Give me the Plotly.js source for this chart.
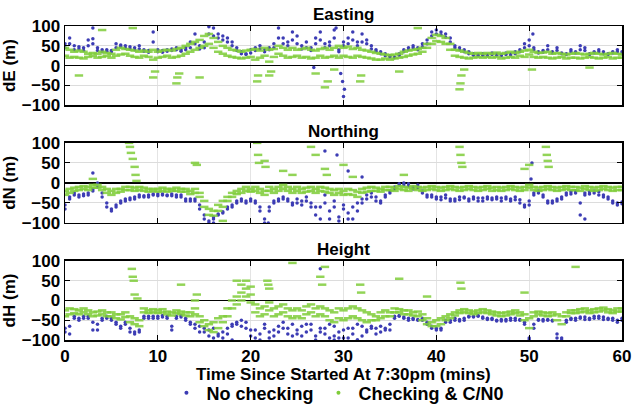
<!DOCTYPE html>
<html><head><meta charset="utf-8">
<script src="https://cdn.plot.ly/plotly-3.0.1.min.js"></script>
<style>html,body{margin:0;padding:0;background:#fff}#c{width:632px;height:406px}</style>
</head><body><div id="c"></div>
<script>
const t = [0,0.5,1,1.5,2,2.5,3,3.5,4,4.5,5,5.5,6,6.5,7,7.5,8,8.5,9,9.5,10,10.5,11,11.5,12,12.5,13,13.5,14,14.5,15,15.5,16,16.5,17,17.5,18,18.5,19,19.5,20,20.5,21,21.5,22,22.5,23,23.5,24,24.5,25,25.5,26,26.5,27,27.5,28,28.5,29,29.5,30,30.5,31,31.5,32,32.5,33,33.5,34,34.5,35,35.5,36,36.5,37,37.5,38,38.5,39,39.5,40,40.5,41,41.5,42,42.5,43,43.5,44,44.5,45,45.5,46,46.5,47,47.5,48,48.5,49,49.5,50,50.5,51,51.5,52,52.5,53,53.5,54,54.5,55,55.5,56,56.5,57,57.5,58,58.5,59,59.5,60];

// Easting
const eBlue1 = [55,70,50,48,45,65,68,45,40,40, 38,55,52,50,48,45,50,40,38,85, 40,38,40,42,45,40,45,60,80,50, 60,98,95,80,75,70,60,45,35,30, 40,45,50,40,45,55,95,70,60,85, 75,50,60,45,70,85,55,60,90,40, 60,70,85,60,80,65,50,40,35,30, 25,22,30,40,45,50,45,55,65,85, 90,85,80,70,50,45,40,35,30,28, 30,28,32,30,28,32,30,35,40,55, 65,45,35,38,50,35,45,32,30,40, 35,50,45,30,35,40,35,30,35,40, 35];
const eBlue2 = [45,55,40,42,38,50,55,38,35,36, 35,45,48,44,42,40,42,36,34,60, 35,34,36,38,40,36,40,45,55,42, 45,80,75,70,65,60,50,38,30,28, 32,38,42,35,40,45,70,55,50,65, 55,42,45,38,55,65,45,50,70,35, 50,55,65,50,60,55,42,36,30,25, 22,20,26,35,40,45,40,48,55,75, 80,78,72,60,45,40,35,30,26,25, 26,25,28,26,25,28,27,30,35,45, 50,40,32,34,40,32,38,30,28,35, 32,40,38,28,32,35,30,28,32,35, 30];
const eGreen1 = [45,40,35,38,35,30,32,30,35,32, 30,40,45,42,40,38,35,38,35,40, 35,38,40,38,42,45,50,55,60,65, 75,80,70,60,50,45,40,38,35,38, 40,42,38,45,40,42,50,45,40,45, 40,42,45,40,38,42,45,40,45,50, 45,48,42,45,40,38,35,32,30,28, 26,28,30,35,38,40,42,45,55,70, 78,75,70,55,40,38,35,32,30,32, 30,32,30,33,30,32,35,32,35,38, 40,35,32,33,35,30,32,30,28,30, 32,30,28,30,32,30,28,30,32,30, 28];
const eGreen2 = [25,20,22,20,18,22,25,20,22,25, 20,25,28,30,25,22,20,25,22,15, 20,22,25,20,22,25,30,35,40,45, 50,55,45,35,30,25,22,20,18,20, 22,15,20,25,10,22,30,25,20,22, 25,20,22,18,20,25,20,22,25,20, 25,22,20,25,22,20,18,15,15,18, 15,18,20,22,25,28,30,35,45,55, 62,60,55,40,25,22,20,18,20,22, 20,22,20,22,18,20,22,20,25,22, 28,22,20,22,20,18,20,22,18,20, 20,18,20,22,20,18,20,22,18,20, 20];
const eBlueOutT = [30,30.1,29.9,29.7,29.2,26.8,3,50.4];
const eBlueOutV = [-78,-60,-40,-20,95,-5,95,80];
const eGreenOutT = [1.5,9.5,9.7,12,12.1,12.3,14.5,20.7,20.8,22,22.2,27,28,28.3,29,31.8,31.9,36,42.5,42.6,42.7,43,50.3,56.5,4,38,7.3];
const eGreenOutV = [-25,-30,-15,-45,-30,-20,-30,-40,-25,-25,-15,-20,-55,-40,-10,-40,-25,-15,-60,-45,-25,-10,-10,-5,90,95,95];

// Northing
const nBlue1 = [-55,-40,-30,-30,-28,-30,-20,-10,-25,-50, -65,-55,-45,-40,-38,-40,-35,-32,-30,-30, -28,-30,-32,-28,-30,-35,-40,-40,-45,-55, -80,-95,-90,-78,-72,-65,-55,-45,-45,-50, -40,-45,-60,-90,-60,-45,-40,-35,-45,-50, -40,-45,-35,-50,-60,-90,-30,-70,-45,-85, -55,-75,-90,-50,-40,-30,-25,-35,-45,-30, -20,-10,-2,-5,-8,-10,-5,-20,-30,-35, -40,-35,-38,-45,-40,-35,-38,-40,-35,-45, -38,-40,-42,-35,-38,-40,-45,-35,-42,-55, -45,-25,-20,-30,-45,-50,-40,-35,-25,-22, -20,-50,-25,-22,-20,-22,-30,-35,-45,-50, -48];
const nBlue2 = [-65,-35,-25,-35,-32,-25,-15,0,-35,-60, -70,-60,-50,-45,-42,-35,-30,-35,-35,-28, -32,-28,-30,-32,-35,-30,-45,-45,-40,-65, -90,-100,-85,-80,-75,-60,-60,-50,-40,-45, -45,-50,-70,-100,-70,-50,-45,-40,-40,-55, -50,-55,-45,-60,-80,-60,-50,-90,-60,-95, -65,-90,-60,-70,-50,-40,-35,-45,-50,-35, -25,-15,-5,0,-2,-15,-12,-25,-35,-30, -35,-42,-30,-40,-45,-42,-35,-45,-40,-38, -45,-35,-38,-40,-45,-35,-40,-42,-50,-60, -55,-30,-25,-35,-50,-45,-45,-40,-30,-28, -25,-80,-30,-28,-25,-30,-35,-40,-50,-55, -52];
const nGreen1 = [-20,-15,-12,-10,-8,-10,-5,-5,-10,-15, -20,-15,-15,-10,-10,-12,-10,-12,-15,-15, -15,-12,-15,-15,-12,-15,-15,-20,-15,-25, -45,-65,-70,-55,-45,-35,-25,-20,-15,-10, -15,-10,-15,-20,-10,-15,-10,-5,-10,-15, -10,-15,-12,-10,-15,-10,-12,-15,-18,-15, -20,-15,-18,-22,-15,-12,-10,-12,-15,-10, -10,-12,-8,-10,-12,-8,-10,-12,-10,-8, -10,-12,-10,-8,-10,-12,-10,-8,-10,-12, -10,-8,-12,-10,-12,-10,-8,-10,-12,-10, -5,-10,-12,-10,-8,-10,-12,-10,-8,-10, -10,-12,-8,-10,-12,-10,-8,-10,-12,-10, -10];
const nGreen2 = [-30,-25,-20,-18,-15,-18,-12,-12,-18,-25, -30,-25,-22,-18,-18,-20,-18,-20,-22,-20, -22,-20,-22,-20,-20,-22,-22,-28,-25,-35, -60,-80,-82,-70,-60,-45,-35,-28,-25,-20, -22,-20,-25,-30,-20,-25,-20,-15,-20,-25, -20,-25,-22,-20,-25,-20,-22,-25,-30,-25, -30,-28,-30,-35,-25,-22,-20,-20,-22,-18, -18,-20,-15,-18,-20,-15,-18,-20,-18,-15, -18,-20,-18,-15,-18,-20,-18,-15,-18,-20, -18,-15,-20,-18,-20,-18,-15,-18,-20,-18, -12,-18,-20,-18,-15,-18,-20,-18,-15,-18, -18,-20,-15,-18,-20,-18,-15,-18,-20,-18, -18];
const nBlueOutT = [3,29.3,28,30.5,32,50.2,50.3,56,21.9,16];
const nBlueOutV = [25,70,80,30,15,10,50,-90,-100,-100];
const nGreenOutT = [6.9,7,7.1,7.3,7.5,7.6,7.7,3,14,14.2,17,20.7,20.8,20.9,21.5,21.6,23.5,24.5,26.5,27,28,28.2,30,31,36.5,42.5,42.6,42.7,42.8,51.8,51.9,52,52.1,50,49.5];
const nGreenOutV = [100,90,75,60,40,20,5,10,50,45,-95,100,70,50,55,40,30,20,90,70,35,20,45,15,20,90,70,50,40,90,70,55,40,45,35];

// Height
const hBlue1 = [-70,-85,-45,-45,-40,-45,-55,-75,-45,-40, -45,-60,-65,-55,-70,-80,-80,-40,-40,-45, -40,-38,-45,-75,-40,-42,-50,-55,-60,-65, -80,-90,-70,-85,-95,-85,-60,-55,-65,-55, -90,-75,-100,-60,-80,-90,-65,-70,-85,-60, -75,-65,-80,-60,-90,-70,-85,-95,-65,-80, -75,-95,-70,-60,-90,-75,-65,-70,-80,-75, -60,-40,-40,-42,-45,-48,-50,-45,-55,-65, -75,-70,-55,-50,-50,-52,-45,-42,-40,-40, -42,-45,-48,-50,-52,-48,-50,-45,-50,-55, -95,-60,-50,-48,-50,-52,-85,-95,-50,-45, -45,-42,-48,-45,-40,-45,-42,-48,-45,-50, -45];
const hBlue2 = [-80,-65,-40,-50,-45,-40,-75,-60,-50,-45, -50,-55,-70,-60,-80,-85,-75,-45,-45,-40, -45,-42,-40,-65,-45,-38,-45,-60,-70,-80, -70,-75,-95,-90,-80,-70,-65,-60,-50,-70, -75,-95,-85,-70,-95,-75,-80,-55,-70,-90, -85,-90,-60,-75,-100,-80,-70,-60,-90,-95, -95,-70,-85,-100,-65,-80,-70,-85,-65,-70, -75,-45,-38,-45,-50,-45,-48,-50,-60,-70, -70,-75,-50,-55,-45,-48,-50,-40,-42,-38, -45,-48,-45,-52,-48,-52,-45,-50,-48,-60, -100,-70,-48,-52,-48,-50,-95,-100,-55,-48, -50,-45,-42,-48,-45,-40,-48,-45,-50,-55, -50];
const hGreen1 = [-25,-20,-22,-25,-20,-25,-30,-28,-25,-30, -30,-35,-35,-30,-40,-45,-50,-20,-25,-22, -25,-22,-28,-30,-25,-28,-30,-30,-20,-40, -50,-60,-55,-45,-40,-20,0,10,20,30, 15,-10,-20,-15,-5,-20,-15,-10,-20,-25, -20,-25,-15,-10,-20,-15,-20,-25,-30,-20, -25,-20,-15,-20,-25,-30,-35,-40,-30,-25, -30,-20,-22,-25,-25,-30,-28,-35,-45,-55, -50,-45,-40,-35,-30,-25,-22,-25,-28,-25, -22,-25,-28,-30,-32,-30,-28,-25,-30,-35, -45,-30,-28,-30,-32,-30,-35,-40,-30,-25, -25,-22,-20,-25,-22,-20,-18,-22,-25,-20, -20];
const hGreen2 = [-40,-35,-32,-35,-30,-35,-40,-38,-35,-40, -40,-45,-48,-42,-55,-60,-65,-30,-32,-30, -32,-30,-35,-38,-32,-35,-38,-40,-35,-55, -65,-75,-80,-70,-55,-40,-20,-10,0,10, -5,-30,-40,-35,-25,-40,-35,-30,-40,-45, -40,-45,-35,-30,-40,-35,-40,-50,-55,-45, -50,-45,-40,-45,-50,-55,-50,-50,-45,-40, -40,-30,-30,-35,-35,-38,-40,-50,-60,-65, -65,-60,-50,-45,-38,-32,-30,-32,-35,-32, -30,-32,-35,-38,-40,-38,-35,-32,-38,-50, -70,-40,-35,-38,-40,-38,-50,-60,-40,-32, -32,-30,-28,-32,-30,-28,-25,-30,-32,-28, -28];
const hBlueOutT = [27.5,18,29,31.5];
const hBlueOutV = [80,-100,-100,-100];
const hGreenOutT = [7.2,7.3,7.4,7.5,7.8,14,14.2,18.5,19,19.5,20,21.8,21.9,22,24.5,27.5,27.7,31.8,31.9,39,42.6,42.7,49.5,36,12.5,55,28];
const hGreenOutV = [80,60,50,15,5,0,15,50,40,50,35,50,40,30,95,60,40,40,20,10,45,30,20,55,40,85,85];

const seriesNames = ['No checking','Checking & C/N0'];
const xTitle = 'Time Since Started At 7:30pm (mins)';
const panels = [
  {b1:eBlue1,b2:eBlue2,bt:eBlueOutT,bv:eBlueOutV,g1:eGreen1,g2:eGreen2,gt:eGreenOutT,gv:eGreenOutV,ax:''},
  {b1:nBlue1,b2:nBlue2,bt:nBlueOutT,bv:nBlueOutV,g1:nGreen1,g2:nGreen2,gt:nGreenOutT,gv:nGreenOutV,ax:'2'},
  {b1:hBlue1,b2:hBlue2,bt:hBlueOutT,bv:hBlueOutV,g1:hGreen1,g2:hGreen2,gt:hGreenOutT,gv:hGreenOutV,ax:'3'}
];
const BLUE = '#3c3cb4', GREEN = '#7fcc3a';
const traces = [];
panels.forEach((p)=>{
  traces.push({type:'scatter',mode:'markers',name:seriesNames[0],legendgroup:'b',showlegend:false,
    x:t.concat(t,p.bt), y:p.b1.concat(p.b2,p.bv), xaxis:'x'+p.ax, yaxis:'y'+p.ax,
    marker:{color:BLUE,size:3.5}});
  traces.push({type:'scatter',mode:'markers',name:seriesNames[1],legendgroup:'g',showlegend:false,
    x:t.concat(t,p.gt), y:p.g1.concat(p.g2,p.gv), xaxis:'x'+p.ax, yaxis:'y'+p.ax,
    marker:{color:GREEN,size:6,symbol:'line-ew-open',opacity:0.85,line:{color:GREEN,width:2.5}}});
});
// legend entries
traces.push({type:'scatter',mode:'markers',name:seriesNames[0],legendgroup:'b',x:[null],y:[null],marker:{color:BLUE,size:4}});
traces.push({type:'scatter',mode:'markers',name:seriesNames[1],legendgroup:'g',x:[null],y:[null],marker:{color:GREEN,size:4}});

const F = {family:'Arial, "Liberation Sans", sans-serif', size:17, color:'#000', weight:'bold'};
function xa(showLabels, anchor){
  return {domain:[0,1], range:[0,60], tickvals:[0,10,20,30,40,50,60], ticks:'inside', ticklen:5, tickcolor:'#000',
    showline:true, linecolor:'#000', linewidth:1.5, mirror:'ticks', showgrid:true, gridcolor:'#e4e4e4', zeroline:false,
    showticklabels:showLabels, tickfont:F, anchor:anchor};
}
function ya(dom, title, anchor){
  return {domain:dom, range:[-100,100], tickvals:[-100,-50,0,50,100], ticks:'inside', ticklen:5, tickcolor:'#000',
    showline:true, linecolor:'#000', linewidth:1.5, mirror:'ticks', showgrid:true, gridcolor:'#dcdcdc',
    zeroline:true, zerolinecolor:'#000', zerolinewidth:1.5, tickfont:F, anchor:anchor,
    title:{text:title, font:F, standoff:4}};
}
const layout = {
  width:632, height:406, paper_bgcolor:'#fff', plot_bgcolor:'#fff',
  margin:{l:65, r:10, t:20, b:66, autoexpand:false},
  showlegend:true,
  legend:{orientation:'h', x:0.49, xanchor:'center', yref:'container', y:0.032, yanchor:'middle',
    font:Object.assign({},F,{size:18}), tracegroupgap:0},
  xaxis: xa(false,'y'),
  xaxis2: xa(false,'y2'),
  xaxis3: xa(true,'y3'),
  yaxis: ya([0.734,0.981],'dE (m)','x'),
  yaxis2: ya([0.366,0.616],'dN (m)','x2'),
  yaxis3: ya([0,0.247],'dH (m)','x3'),
  annotations:[
    {text:'Easting', xref:'paper', yref:'paper', x:0.5, y:0.981, yanchor:'bottom', showarrow:false, font:F},
    {text:'Northing', xref:'paper', yref:'paper', x:0.5, y:0.616, yanchor:'bottom', showarrow:false, font:F},
    {text:'Height', xref:'paper', yref:'paper', x:0.5, y:0.247, yanchor:'bottom', showarrow:false, font:F},
    {text:xTitle, xref:'paper', yref:'paper', x:0.5, y:-0.109, yanchor:'middle', showarrow:false, font:F}
  ]
};
Plotly.newPlot('c', traces, layout, {staticPlot:true, displayModeBar:false});
</script></body></html>
